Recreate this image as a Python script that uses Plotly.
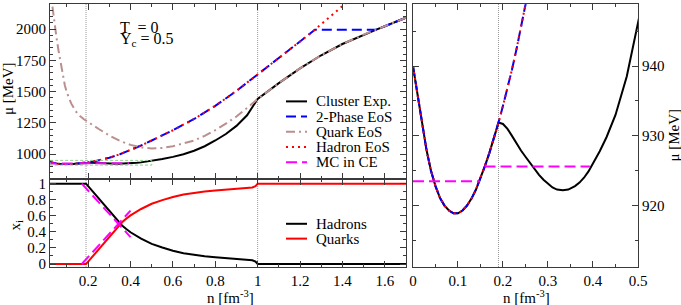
import plotly.graph_objects as go

# ---------------- data ----------------
# Hadron EoS chemical potential mu(n) [MeV] vs n [fm^-3]
n_hadron = [0.0, 0.01, 0.02, 0.03, 0.04, 0.05, 0.06, 0.07, 0.08, 0.09, 0.10, 0.11, 0.12,
            0.13, 0.14, 0.15, 0.16, 0.17, 0.18, 0.19, 0.20, 0.21, 0.22, 0.23, 0.24, 0.25,
            0.27, 0.30, 0.35, 0.40, 0.45, 0.50, 0.60, 0.70, 0.80, 0.90, 1.00, 1.10, 1.20,
            1.27, 1.30, 1.40, 1.45]
mu_hadron = [940.0, 936.0, 931.7, 928.0, 925.0, 922.8, 921.1, 920.0, 919.3, 918.9, 918.9, 919.3, 920.0,
             921.0, 922.3, 923.9, 925.7, 927.6, 929.7, 931.9, 934.3, 936.8, 939.5, 942.4, 945.5, 948.8,
             957.0, 970.0, 998.0, 1032.0, 1068.0, 1108.0, 1190.0, 1280.0, 1385.0, 1505.0, 1635.0, 1768.0, 1900.0,
             1995.0, 2037.0, 2180.0, 2255.0]

# Quark EoS
n_quark = [0.02, 0.03, 0.04, 0.05, 0.06, 0.07, 0.08, 0.09, 0.10, 0.12, 0.14, 0.16, 0.18, 0.20,
           0.25, 0.30, 0.35, 0.40, 0.45, 0.50, 0.55, 0.60, 0.65, 0.70, 0.75, 0.80, 0.85, 0.90,
           0.95, 1.00, 1.10, 1.20, 1.30, 1.40, 1.50, 1.56, 1.60, 1.70]
mu_quark = [2330.0, 2190.0, 2060.0, 1940.0, 1830.0, 1725.0, 1625.0, 1550.0, 1490.0, 1405.0, 1345.0, 1305.0, 1278.0, 1255.0,
            1200.0, 1148.0, 1105.0, 1073.0, 1053.0, 1045.0, 1048.0, 1062.0, 1082.0, 1108.0, 1145.0, 1190.0, 1243.0, 1300.0,
            1368.0, 1440.0, 1567.0, 1685.0, 1790.0, 1880.0, 1955.0, 1995.0, 2022.0, 2090.0]

# Cluster expansion: hadron branch up to n_onset, this middle part, quark branch from n_quark_only
n_cluster_mid = [0.20, 0.21, 0.22, 0.23, 0.24, 0.25, 0.26, 0.27, 0.28, 0.29, 0.30, 0.31, 0.32, 0.333,
                 0.345, 0.36, 0.37, 0.38, 0.39, 0.40, 0.415, 0.43, 0.45, 0.475, 0.50, 0.525, 0.55,
                 0.60, 0.65, 0.70, 0.75, 0.80, 0.85, 0.90, 0.95]
mu_cluster_mid = [931.7, 931.0, 930.0, 928.9, 927.9, 927.0, 926.1, 925.2, 924.4, 923.7, 923.1, 922.6, 922.3, 922.2,
                  922.3, 922.8, 923.3, 924.0, 924.9, 926.0, 927.8, 929.8, 933.0, 938.5, 945.5, 952.5, 960.0,
                  977.0, 998.0, 1026.0, 1062.0, 1108.0, 1160.0, 1225.0, 1310.0]
n_onset = 0.19        # end of pure hadron phase
n_quark_only = 1.0    # begin of pure quark phase

# 2-phase EoS: hadron up to n_2p_low, plateau, quark from n_2p_high
n_2p_low = 1.27
n_2p_high = 1.56

# Maxwell construction in cluster expansion (mu panels)
n_mc_mu = [0.0, 0.148, None, 0.159, 0.393]
mu_mc = [923.5, 923.5, None, 925.6, 925.6]

# Fractions x_i
n_frac = [0.02, 0.19, 0.20, 0.22, 0.24, 0.26, 0.28, 0.30, 0.32, 0.34, 0.36, 0.38, 0.40, 0.45,
          0.50, 0.55, 0.60, 0.65, 0.70, 0.75, 0.80, 0.85, 0.90, 0.95, 0.975, 0.99, 1.0, 1.7]
x_hadrons = [1.0, 1.0, 0.97, 0.91, 0.85, 0.79, 0.73, 0.67, 0.605, 0.54, 0.48, 0.435, 0.395, 0.315,
             0.25, 0.205, 0.165, 0.135, 0.115, 0.098, 0.085, 0.076, 0.068, 0.057, 0.047, 0.03, 0.0, 0.0]
x_quarks = [0.0, 0.0, 0.03, 0.09, 0.15, 0.21, 0.27, 0.33, 0.395, 0.46, 0.52, 0.565, 0.605, 0.685,
            0.75, 0.795, 0.835, 0.865, 0.885, 0.902, 0.915, 0.924, 0.932, 0.943, 0.953, 0.97, 1.0, 1.0]
n_mc_frac = [0.17, 0.40]
x_mc_hadrons = [1.0, 0.335]
x_mc_quarks = [0.0, 0.665]

phase_lines = [0.19, 1.0]      # vertical dotted lines (left panels)
zoom_line = [0.19]             # vertical dotted line (right panel)

# axis ranges
left_x_range = [0.02, 1.7]
top_y_range = [800, 2200]
frac_y_range = [-0.037, 1.058]
zoom_x_range = [0.0, 0.5]
zoom_y_range = [911.2, 948.9]

# ---------------- derived series ----------------
n_cluster = [n for n in n_hadron if n <= n_onset] + n_cluster_mid + [n for n in n_quark if n >= n_quark_only]
mu_cluster = ([m for n, m in zip(n_hadron, mu_hadron) if n <= n_onset] + mu_cluster_mid +
              [m for n, m in zip(n_quark, mu_quark) if n >= n_quark_only])
n_two = [n for n in n_hadron if n <= n_2p_low] + [n for n in n_quark if n >= n_2p_high]
mu_two = ([m for n, m in zip(n_hadron, mu_hadron) if n <= n_2p_low] +
          [m for n, m in zip(n_quark, mu_quark) if n >= n_2p_high])

FONT = "Liberation Serif, serif"

styles = {
    "Cluster Exp.": dict(color="black", width=2, dash="solid"),
    "2-Phase EoS": dict(color="#0000ff", width=2, dash="10px,5px"),
    "Quark EoS": dict(color="#bc8f8f", width=2, dash="9px,4px,2px,4px"),
    "Hadron EoS": dict(color="#ff0000", width=2, dash="2px,4px"),
    "MC in CE": dict(color="#ff00ff", width=2, dash="11px,5px"),
    "Hadrons": dict(color="black", width=2, dash="solid"),
    "Quarks": dict(color="#ff0000", width=2, dash="solid"),
}

fig = go.Figure()

def add(x, y, name, xa, ya):
    fig.add_trace(go.Scatter(x=x, y=y, mode="lines", name=name, line=styles[name],
                             xaxis=xa, yaxis=ya, showlegend=False, hoverinfo="skip"))

for xa, ya in [("x", "y"), ("x3", "y3")]:
    add(n_cluster, mu_cluster, "Cluster Exp.", xa, ya)
    add(n_two, mu_two, "2-Phase EoS", xa, ya)
    add(n_quark, mu_quark, "Quark EoS", xa, ya)
    add(n_hadron, mu_hadron, "Hadron EoS", xa, ya)
    add(n_mc_mu, mu_mc, "MC in CE", xa, ya)

add(n_frac, x_hadrons, "Hadrons", "x2", "y2")
add(n_frac, x_quarks, "Quarks", "x2", "y2")
fig.add_trace(go.Scatter(x=n_mc_frac, y=x_mc_hadrons, mode="lines", line=styles["MC in CE"],
                         xaxis="x2", yaxis="y2", showlegend=False, hoverinfo="skip"))
fig.add_trace(go.Scatter(x=n_mc_frac, y=x_mc_quarks, mode="lines", line=styles["MC in CE"],
                         xaxis="x2", yaxis="y2", showlegend=False, hoverinfo="skip"))

# ---------------- layout ----------------
W, H = 681, 305
ML, MR, MT, MB = 50, 43, 1, 38
L_DOM = [0.0, 0.6054]
R_DOM = [0.6173, 1.0]
SPLIT = 0.3346
AX_COL = "#3a3a3a"

def px_x(px):
    return (px - ML) / (W - ML - MR)

def px_y(py):
    return (H - MB - py) / (H - MT - MB)

def ax(**kw):
    base = dict(showline=True, linecolor=AX_COL, linewidth=1, mirror="allticks",
                ticks="inside", ticklen=6, tickwidth=1, tickcolor=AX_COL,
                showgrid=False, zeroline=False,
                tickfont=dict(family=FONT, size=15, color="black"))
    base.update(kw)
    return base

minor = lambda d: dict(ticks="inside", ticklen=3, dtick=d, tickcolor=AX_COL, showgrid=False)

fig.update_layout(
    width=W, height=H, autosize=False,
    margin=dict(l=ML, r=MR, t=MT, b=MB),
    paper_bgcolor="white", plot_bgcolor="white",
    font=dict(family=FONT, size=15, color="black"),
    xaxis=ax(domain=L_DOM, anchor="y", range=left_x_range, tick0=0, dtick=0.2,
             showticklabels=False, minor=minor(0.1)),
    yaxis=ax(domain=[SPLIT, 1], anchor="x", range=top_y_range, tick0=0, dtick=250,
             minor=minor(50)),
    xaxis2=ax(domain=L_DOM, anchor="y2", range=left_x_range, tick0=0, dtick=0.2,
              minor=minor(0.1)),
    yaxis2=ax(domain=[0, SPLIT], anchor="x2", range=frac_y_range, tick0=0, dtick=0.2,
              minor=minor(0.1)),
    xaxis3=ax(domain=R_DOM, anchor="y3", range=zoom_x_range, tick0=0, dtick=0.1,
              minor=minor(0.05)),
    yaxis3=ax(domain=[0, 1], anchor="x3", side="right", range=zoom_y_range, tick0=0, dtick=10,
              minor=minor(5)),
)

# axis titles placed as text
titles = [
    ("μ [MeV]", 8, 87, -90),
    ("x<sub>i</sub>", 16, 225, -90),
    ("n [fm<sup>-3</sup>]", 230, 297, 0),
    ("n [fm<sup>-3</sup>]", 526, 297, 0),
    ("μ [MeV]", 673, 134, -90),
]
for text, tx, ty, ang in titles:
    fig.add_annotation(xref="paper", yref="paper", x=px_x(tx), y=px_y(ty), text=text,
                       showarrow=False, xanchor="center", yanchor="middle", textangle=ang,
                       font=dict(family=FONT, size=15, color="black"))

# vertical dotted lines
for n in phase_lines:
    fig.add_shape(type="line", xref="x", yref="paper", x0=n, x1=n, y0=0, y1=1,
                  line=dict(color="#999999", width=1, dash="1px,1px"), layer="below")
for n in zoom_line:
    fig.add_shape(type="line", xref="x3", yref="y3 domain", x0=n, x1=n, y0=0, y1=1,
                  line=dict(color="#999999", width=1, dash="1px,1px"), layer="below")

# zoom box in the top-left panel (region shown in the right panel)
fig.add_shape(type="rect", xref="x", yref="y",
              x0=max(zoom_x_range[0], left_x_range[0]), x1=zoom_x_range[1],
              y0=zoom_y_range[0], y1=zoom_y_range[1],
              line=dict(color="#8fd18f", width=1, dash="3px,2px"), layer="above")

# text annotations
fig.add_annotation(xref="paper", yref="paper", x=px_x(118), y=px_y(24.5),
                   text="T &nbsp;= 0", showarrow=False, xanchor="left", yanchor="middle",
                   font=dict(family=FONT, size=16, color="black"))
fig.add_annotation(xref="paper", yref="paper", x=px_x(118), y=px_y(36.5),
                   text="Y<sub>c</sub> = 0.5", showarrow=False, xanchor="left", yanchor="middle",
                   font=dict(family=FONT, size=16, color="black"))

# hand-drawn legends (compact spacing like the reference)
def legend(names, y_px0, dy):
    for i, name in enumerate(names):
        py = y_px0 + dy * i
        yp = px_y(py)
        st = styles[name]
        fig.add_shape(type="line", xref="paper", yref="paper",
                      x0=px_x(286), x1=px_x(307), y0=yp, y1=yp,
                      line=dict(color=st["color"], width=st["width"], dash=st["dash"]))
        fig.add_annotation(xref="paper", yref="paper", x=px_x(314), y=yp,
                           text=name, showarrow=False, xanchor="left", yanchor="middle",
                           font=dict(family=FONT, size=15, color="black"))

legend(["Cluster Exp.", "2-Phase EoS", "Quark EoS", "Hadron EoS", "MC in CE"], 99.5, 15.4)
legend(["Hadrons", "Quarks"], 223.3, 15.0)

fig.write_html("out.html", config={"displayModeBar": False},
               post_script="document.body.style.margin='0px';document.body.style.overflow='hidden';")
